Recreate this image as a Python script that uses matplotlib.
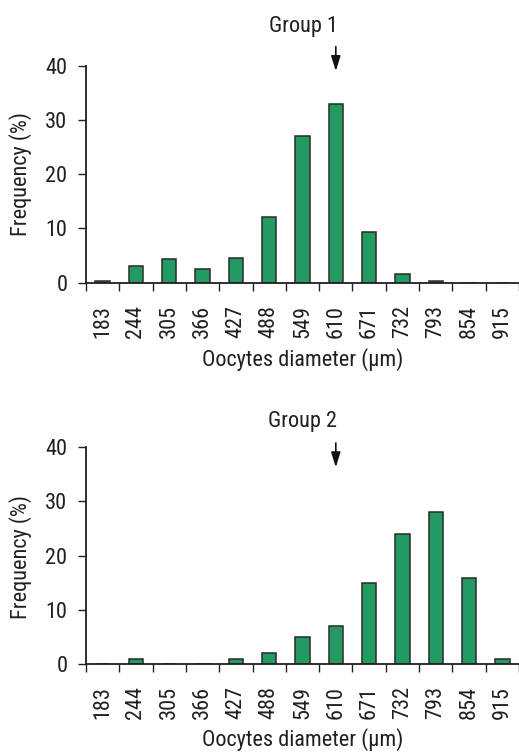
import matplotlib
matplotlib.use("Agg")
import matplotlib.pyplot as plt
import numpy as np

categories = ["183", "244", "305", "366", "427", "488", "549", "610",
              "671", "732", "793", "854", "915"]
group1 = [0.3, 3.0, 4.3, 2.5, 4.6, 12.1, 27.0, 33.0, 9.4, 1.6, 0.3, 0.0, 0.0]
group2 = [0.0, 1.0, 0.0, 0.0, 1.0, 2.0, 5.0, 7.0, 15.0, 24.0, 28.0, 15.8, 1.0]
titles = ["Group 1", "Group 2"]
arrow_category = "610"

plt.rcParams["font.family"] = ["Roboto Condensed", "Liberation Sans", "DejaVu Sans"]

W, H = 519, 754
fig = plt.figure(figsize=(W / 100, H / 100), dpi=100)

txt = "#231f20"
green = "#239a62"
edge = "#2a2a2a"
fs = 16

panels = [
    dict(data=group1, title=titles[0], zero=282.7, top=65.7, title_y=32,
         arrow=(43.5, 39.0), xlabel_y=366, ylabel_y=174),
    dict(data=group2, title=titles[1], zero=664.0, top=447.3, title_y=427,
         arrow=(40.8, 36.3), xlabel_y=746, ylabel_y=557),
]

x = np.arange(len(categories))
left_px = 86
step_px = 33.5
for p in panels:
    ax = fig.add_axes([left_px / W, 1 - p["zero"] / H,
                       (W - left_px) / W, (p["zero"] - p["top"]) / H])
    ax.bar(x, p["data"], width=0.43, color=green, edgecolor=edge,
           linewidth=1.1, zorder=2)
    ax.set_xlim(-0.5, -0.5 + (W - left_px) / step_px)
    ax.set_ylim(0, 40)
    for s in ["top", "right"]:
        ax.spines[s].set_visible(False)
    for s in ["left", "bottom"]:
        ax.spines[s].set_linewidth(1.3)
        ax.spines[s].set_color(txt)
        ax.spines[s].set_zorder(3)
    ax.set_yticks([0, 10, 20, 30, 40])
    ax.tick_params(axis="y", direction="out", length=5.5, width=1.0,
                   color=txt, labelsize=fs, labelcolor=txt, pad=8)
    ax.set_xticks(x)
    ax.set_xticklabels(categories, rotation=90)
    ax.tick_params(axis="x", which="major", length=0, pad=16,
                   labelsize=fs, labelcolor=txt)
    ax.set_xticks(np.arange(-0.5, len(categories), 1.0), minor=True)
    ax.tick_params(axis="x", which="minor", direction="out", length=5.5,
                   width=1.0, color=txt)
    ax.set_xticklabels([], minor=True)

    xi = categories.index(arrow_category)
    ax.annotate("", xy=(xi, p["arrow"][1]), xytext=(xi, p["arrow"][0]),
                arrowprops=dict(arrowstyle="-|>,head_length=0.9,head_width=0.28",
                                color="#111111", lw=1.2, shrinkA=0, shrinkB=0),
                annotation_clip=False)

    fig.text(303 / W, 1 - p["title_y"] / H, p["title"], ha="center",
             va="baseline", fontsize=fs, color=txt)
    fig.text(303 / W, 1 - p["xlabel_y"] / H, "Oocytes diameter (\u03bcm)",
             ha="center", va="baseline", fontsize=fs, color=txt)
    fig.text(21 / W, 1 - p["ylabel_y"] / H, "Frequency (%)", ha="center",
             va="center", rotation=90, fontsize=fs, color=txt)

fig.savefig("out.png", dpi=100)
